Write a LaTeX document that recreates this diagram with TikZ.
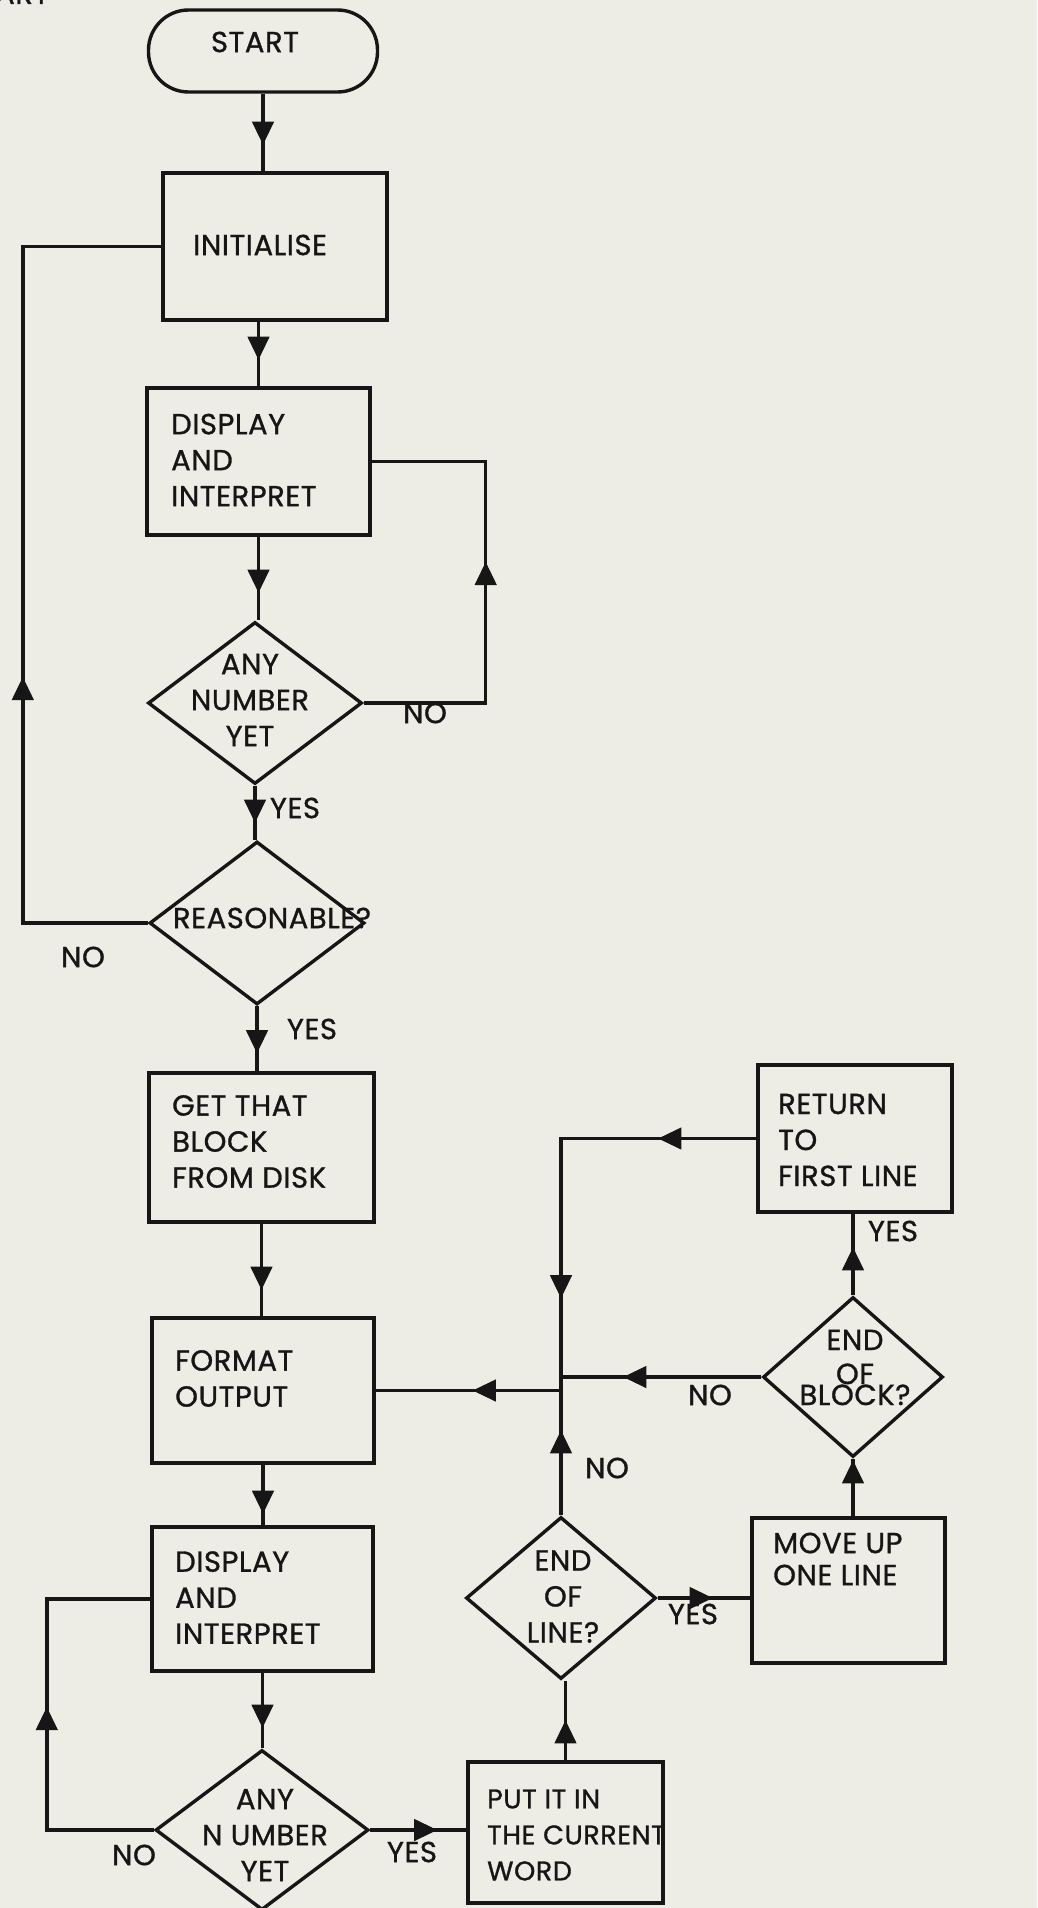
\documentclass[tikz,border=0pt]{standalone}
\usepackage{fontspec}
\setmainfont{Poppins}[LetterSpace=2, FakeBold=1]
\usetikzlibrary{shapes.geometric,arrows.meta,decorations.markings,calc}
\definecolor{paper}{RGB}{237,236,229}
\definecolor{ink}{RGB}{22,22,22}
\begin{document}
\begin{tikzpicture}[x=1pt,y=-1pt,
  conn/.style={draw=ink, color=ink, line width=3.4pt},
  boxnode/.style={draw=ink, line width=3.4pt, rectangle, inner sep=0pt},
  termnode/.style={draw=ink, line width=3.4pt, rectangle, rounded corners=40pt, inner sep=0pt},
  dia/.style={draw=ink, line width=3.4pt, diamond, inner sep=0pt},
  txt/.style={font=\fontsize{29}{36}\selectfont, inner sep=0pt, text=ink, align=left},
  ctxt/.style={font=\fontsize{29}{36}\selectfont, inner sep=0pt, text=ink, align=center},
  lbl/.style={font=\fontsize{29}{36}\selectfont, inner sep=0pt, text=ink},
  midtip/.style={postaction={decorate,decoration={markings,mark=at position #1 with {\arrow{Triangle[length=23pt,width=22pt,line width=1pt]}}}}}
]
\fill[paper] (0,0) rectangle (1037,1908);
\useasboundingbox (0,0) rectangle (1037,1908);

% shapes
\node[termnode, minimum width=229pt, minimum height=82pt] (start) at (263,51) {};
\node[boxnode, minimum width=224pt, minimum height=147pt] (init) at (275,246.5) {};
\node[boxnode, minimum width=223pt, minimum height=147pt] (disp1) at (258.5,461.5) {};
\node[dia, minimum width=214pt, minimum height=162pt] (d1) at (255,703) {};
\node[dia, minimum width=215pt, minimum height=163pt] (d2) at (257,923) {};
\node[boxnode, minimum width=225pt, minimum height=149pt] (get) at (261.5,1147.5) {};
\node[boxnode, minimum width=222pt, minimum height=145pt] (format) at (263,1390.5) {};
\node[boxnode, minimum width=221pt, minimum height=144pt] (disp2) at (262.5,1599) {};
\node[dia, minimum width=213pt, minimum height=160pt] (d3) at (262,1830) {};
\node[boxnode, minimum width=194pt, minimum height=147pt] (ret) at (855,1138.5) {};
\node[dia, minimum width=180pt, minimum height=160pt] (d4) at (853,1377) {};
\node[boxnode, minimum width=193pt, minimum height=145pt] (move) at (848.5,1590.5) {};
\node[dia, minimum width=190pt, minimum height=162pt] (d5) at (561,1598) {};
\node[boxnode, minimum width=195pt, minimum height=141pt] (put) at (565.5,1832.5) {};
\coordinate (jn) at (d5.north |- format.east);

% texts
\node[lbl, anchor=base west] (art) at (-5,4) {ART};
\node[lbl] (startT) at (255,42) {START};
\node[txt, anchor=west] (initT) at (193,245) {INITIALISE};
\node[txt, anchor=west] (disp1T) at (171,460) {DISPLAY\\AND\\INTERPRET};
\node[ctxt] (d1T) at (250,700) {ANY\\NUMBER\\YET};
\node[lbl] (d2T) at (272,918) {REASONABLE?};
\node[txt, anchor=west] (getT) at (172,1141.5) {GET THAT\\BLOCK\\FROM DISK};
\node[txt, anchor=west] (formatT) at (175,1378.5) {FORMAT\\OUTPUT};
\node[txt, anchor=west] (disp2T) at (175,1597.5) {DISPLAY\\AND\\INTERPRET};
\node[ctxt] (d3T) at (265,1835) {ANY\\N UMBER\\YET};
\node[txt, anchor=west] (retT) at (778,1140) {RETURN\\TO\\FIRST LINE};
\node[ctxt] (d4T) at (855,1367.5) {END\\[-2pt]OF\\[-15pt]BLOCK?};
\node[txt, anchor=west] (moveT) at (773,1559) {MOVE UP\\[-4pt]ONE LINE};
\node[ctxt] (d5T) at (563,1596.5) {END\\OF\\LINE?};
\node[txt, anchor=west, font=\fontsize{27}{36}\selectfont] (putT) at (487,1835) {PUT IT IN\\THE CURRENT\\WORD};

% branch labels
\node[lbl] (noA) at (425,713) {NO};
\node[lbl] (yesA) at (295,808) {YES};
\node[lbl] (noB) at (83,957) {NO};
\node[lbl] (yesB) at (312,1029) {YES};
\node[lbl] (yesD) at (893,1231) {YES};
\node[lbl] (noD) at (710,1395) {NO};
\node[lbl] (noE) at (607,1468) {NO};
\node[lbl] (yesE) at (693,1614) {YES};
\node[lbl] (noC) at (134,1855) {NO};
\node[lbl] (yesC) at (412,1852) {YES};

% connectors
\draw[conn, midtip=51pt] (start.south) -- (start.south |- init.north);
\draw[conn, midtip=38pt] (disp1.north |- init.south) -- (disp1.north);
\draw[conn, midtip=56pt] (disp1.south) -- (disp1.south |- d1.north);
\draw[conn, midtip=263pt] (d1.east) -- ++(122,0) |- (disp1.east);
\draw[conn, midtip=37pt] (d1.south) -- (d1.south |- d2.north);
\draw[conn, midtip=371pt] (d2.west) -- ++(-125,0) |- (init.west);
\draw[conn, midtip=47pt] (d2.south) -- (d2.south |- get.north);
\draw[conn, midtip=66pt] (get.south) -- (get.south |- format.north);
\draw[conn, midtip=49pt] (format.south) -- (format.south |- disp2.north);
\draw[conn, midtip=55pt] (disp2.south) -- (disp2.south |- d3.north);
\draw[conn, midtip=230pt] (d3.west) -- ++(-107,0) |- (disp2.west);
\draw[conn, midtip=67pt] (d3.east) -- (d3.east -| put.west);
\draw[conn, midtip=40pt] (put.north) -- (put.north |- d5.south);
\draw[conn, midtip=85pt, midtip=213pt] (d5.north) -- (jn) -- (format.east);
\draw[conn, midtip=55pt] (d5.east) -- (d5.east -| move.west);
\draw[conn, midtip=56pt] (d4.south |- move.north) -- (d4.south);
\draw[conn, midtip=48pt] (d4.north) -- (d4.north |- ret.south);
\draw[conn, midtip=138pt] (d4.west) -- (d4.west -| jn);
\draw[conn, midtip=98pt, midtip=355pt] (ret.west) -| (jn);
\end{tikzpicture}
\end{document}
